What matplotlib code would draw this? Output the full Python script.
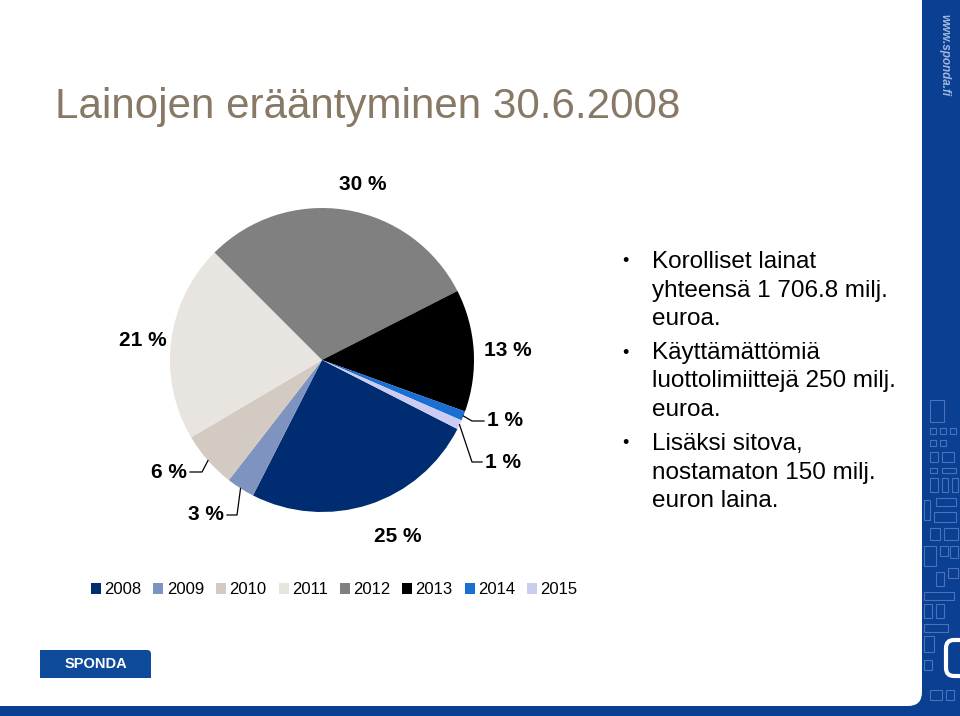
import matplotlib
matplotlib.use("Agg")
import matplotlib.pyplot as plt
import matplotlib.patches as patches
import numpy as np

plt.rcParams["font.family"] = ["Liberation Sans", "DejaVu Sans"]

W, H = 960, 716

YEARS = ["2008", "2009", "2010", "2011", "2012", "2013", "2014", "2015"]
SHARES = [25, 3, 6, 21, 30, 13, 1, 1]  # % of loans maturing
COLORS = ["#002d72", "#7f93c0", "#d3cbc2", "#e8e4df", "#808080",
          "#000000", "#1a6fd2", "#ccccf2"]

TITLE = "Lainojen erääntyminen 30.6.2008"
BULLETS = [
    ["Korolliset lainat", "yhteensä 1 706.8 milj.", "euroa."],
    ["Käyttämättömiä", "luottolimiittejä 250 milj.", "euroa."],
    ["Lisäksi sitova,", "nostamaton 150 milj.", "euron laina."],
]

NAVY = "#0b3f92"

# pie geometry in pixels
CX, CY, R = 322, 360, 152
START = -27

# label positions (pixels); others get a leader line with an elbow
LABEL_POS = {
    "2008": (398, 536), "2011": (143, 340), "2012": (363, 184), "2013": (508, 351),
}
LEADERS = {  # elbow point, end point, text side
    "2009": ((237, 515), (227, 515), "right"),
    "2010": ((202, 472), (190, 472), "right"),
    "2014": ((472, 421), (484, 421), "left"),
    "2015": ((472, 462), (482, 462), "left"),
}


def px2pie(x, y):
    return (x - CX) / R, (CY - y) / R


fig = plt.figure(figsize=(W / 100, H / 100), dpi=100)
fig.patch.set_facecolor(NAVY)

# background / decoration axes in pixel coordinates
bg = fig.add_axes([0, 0, 1, 1])
bg.set_xlim(0, W)
bg.set_ylim(H, 0)
bg.axis("off")

# faint decorative pattern on the right strip
deco_boxes = [
    (930, 400, 14, 22), (930, 428, 6, 6), (940, 428, 6, 6), (950, 428, 6, 6),
    (930, 440, 6, 6), (940, 440, 6, 6), (930, 452, 8, 10), (942, 452, 12, 10),
    (930, 468, 7, 5), (942, 468, 14, 5), (930, 478, 8, 14), (942, 478, 6, 14),
    (952, 478, 6, 14), (924, 500, 6, 20), (936, 498, 20, 8), (934, 512, 22, 10),
    (930, 528, 10, 12), (944, 528, 14, 12), (924, 546, 12, 20), (940, 546, 8, 10),
    (950, 546, 8, 12), (936, 572, 8, 14), (948, 568, 10, 10), (924, 592, 30, 8),
    (924, 604, 8, 14), (936, 604, 8, 14), (924, 624, 24, 8), (924, 636, 10, 16),
    (924, 660, 8, 10), (930, 690, 12, 10), (946, 690, 8, 10),
]
for (x, y, w, h) in deco_boxes:
    bg.add_patch(patches.Rectangle((x, y), w, h, fill=False,
                                   edgecolor="#5b7fc4", linewidth=0.8, alpha=0.8))
bg.add_patch(patches.FancyBboxPatch((946, 640), 30, 36,
                                    boxstyle="round,pad=0,rounding_size=8",
                                    fill=False, edgecolor="white", linewidth=3))

# white slide area with rounded lower-right corner
bg.add_patch(patches.FancyBboxPatch((-40, -40), 962, 746,
                                    boxstyle="round,pad=0,rounding_size=14",
                                    facecolor="white", edgecolor="none"))

bg.text(944, 14, "www.sponda.fi", rotation=270, ha="center", va="top",
        fontsize=8.5, fontstyle="italic", fontweight="bold", color="#9fb6e0")

# title
bg.text(55, 107, TITLE, fontsize=30.3, color="#877966", ha="left", va="center")

# bullet text
y = 262
for block in BULLETS:
    bg.text(622, y, "•", fontsize=13, ha="left", va="center", color="black")
    for line in block:
        bg.text(652, y, line, fontsize=17.5, ha="left", va="center", color="black")
        y += 28.5
    y += 5.5

# sponda logo
for (x, y0, w, h) in [(40, 650, 100, 28), (40, 660, 111, 18)]:
    bg.add_patch(patches.Rectangle((x, y0), w, h, facecolor="#0d4b9a",
                                   edgecolor="none"))
bg.add_patch(patches.FancyBboxPatch((40, 650), 111, 28,
                                    boxstyle="round,pad=0,rounding_size=4",
                                    facecolor="#0d4b9a", edgecolor="none"))
bg.text(96, 664, "SPONDA", fontsize=10.5, fontweight="bold", color="white",
        ha="center", va="center")

# pie
pie_ax = fig.add_axes([(CX - R) / W, (H - CY - R) / H, 2 * R / W, 2 * R / H])
wedges, _ = pie_ax.pie(SHARES, colors=COLORS, startangle=START, counterclock=False,
                       radius=1, wedgeprops=dict(linewidth=0))
pie_ax.set_xlim(-1, 1)
pie_ax.set_ylim(-1, 1)
pie_ax.set_aspect("equal")

for yr, val, wd in zip(YEARS, SHARES, wedges):
    lab = f"{val} %"
    if yr in LABEL_POS:
        lx, ly = px2pie(*LABEL_POS[yr])
        pie_ax.text(lx, ly, lab, fontsize=15, fontweight="bold",
                    ha="center", va="center", clip_on=False)
    else:
        mid = np.deg2rad((wd.theta1 + wd.theta2) / 2)
        sx, sy = np.cos(mid), np.sin(mid)
        (ex, ey), (tx, ty), side = LEADERS[yr]
        ex, ey = px2pie(ex, ey)
        tx, ty = px2pie(tx, ty)
        pie_ax.plot([sx, ex, tx], [sy, ey, ty], color="black", linewidth=0.9,
                    clip_on=False)
        off = 3 / R if side == "left" else -3 / R
        pie_ax.text(tx + off, ty, lab, fontsize=15, fontweight="bold",
                    ha=side, va="center", clip_on=False)

# legend
fig.legend(wedges, YEARS, loc="center left", bbox_to_anchor=(91 / W, 1 - 590 / H),
           ncol=len(YEARS), frameon=False, fontsize=12, handlelength=0.6,
           handleheight=0.6, handletextpad=0.2, columnspacing=0.72,
           borderaxespad=0, borderpad=0)

fig.savefig("out.png", dpi=100, facecolor=fig.get_facecolor())
